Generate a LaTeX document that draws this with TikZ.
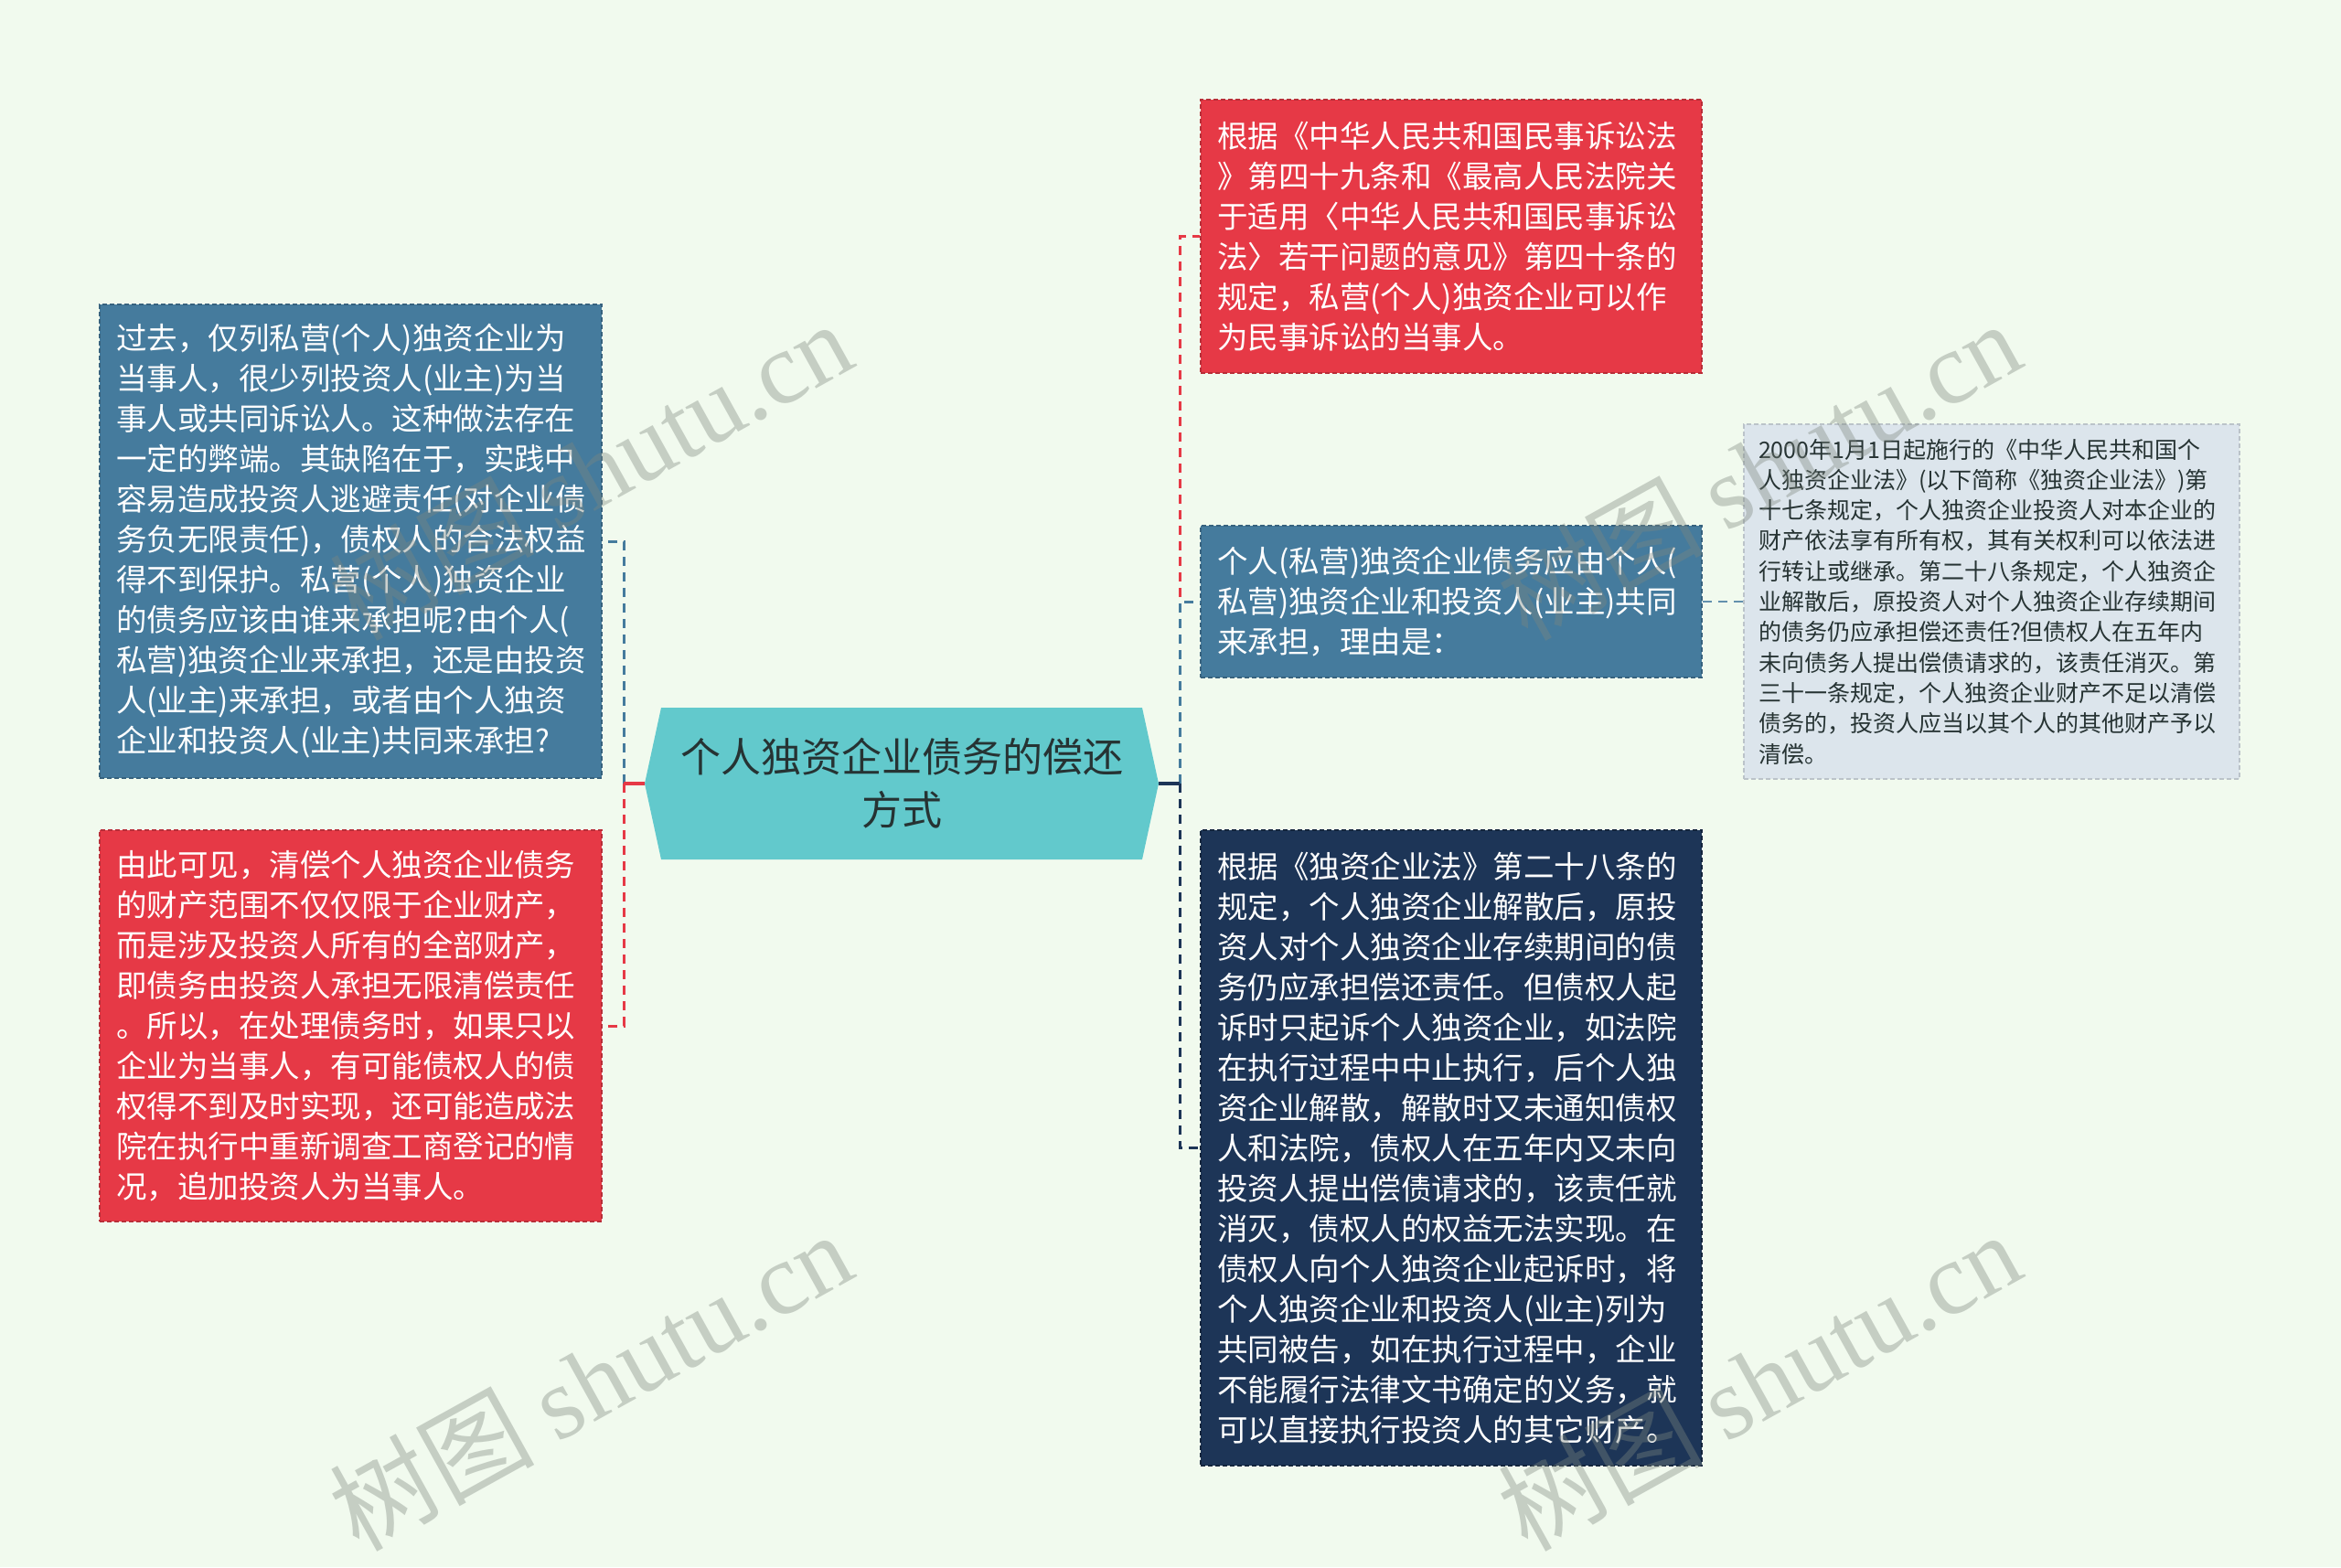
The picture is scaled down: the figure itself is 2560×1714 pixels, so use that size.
\documentclass[tikz,border=0pt]{standalone}
\usepackage{fontspec}
\setmainfont{Noto Sans CJK SC}
\newfontfamily\wmcjk{Noto Sans CJK SC}
\newfontfamily\wmlat{Liberation Serif}
\definecolor{bgc}{HTML}{F1FAEE}
\definecolor{redc}{HTML}{E63946}
\definecolor{bluec}{HTML}{457B9D}
\definecolor{navyc}{HTML}{1D3557}
\definecolor{tealc}{HTML}{62C9CC}
\definecolor{lightc}{HTML}{DCE5EC}
\definecolor{darktxt}{HTML}{263333}
\definecolor{wmc}{HTML}{7E877F}
\tikzset{
  boxbase/.style={rectangle, draw, dash pattern=on 5pt off 3pt, line width=1.5pt, inner xsep=18pt, inner ysep=0pt, align=left, text=white, font=\fontsize{33.5pt}{44pt}\selectfont},
  redbox/.style={boxbase, fill=redc, draw=redc!80!black},
  bluebox/.style={boxbase, fill=bluec, draw=bluec!80!black},
  navybox/.style={boxbase, fill=navyc, draw=navyc!70!black},
  lightbox/.style={rectangle, draw=lightc!85!black, dash pattern=on 5pt off 3pt, line width=1.5pt, fill=lightc, inner xsep=16pt, inner ysep=0pt, align=left, text=darktxt, font=\fontsize{25pt}{33.3pt}\selectfont},
  conn/.style={line width=3pt, dash pattern=on 10pt off 7pt},
  stub/.style={line width=3.5pt},
  wmark/.style={text=wmc, text opacity=0.38, font=\fontsize{112pt}{112pt}\selectfont, inner sep=0pt}
}
\begin{document}
\begin{tikzpicture}[x=1pt,y=-1pt]
\fill[bgc] (0,0) rectangle (2560,1714);
\useasboundingbox (0,0) rectangle (2560,1714);

% center hexagon
\fill[tealc] (705,857) -- (723,774) -- (1249,774) -- (1267,857) -- (1249,940) -- (723,940) -- cycle;
\node[align=center, text=darktxt, font=\fontsize{44pt}{58pt}\selectfont, inner sep=0pt] (c) at (986,857) {个人独资企业债务的偿还\\方式};
\coordinate (cL) at (705,857);
\coordinate (cR) at (1267,857);
\coordinate (jl) at (682,857);
\coordinate (jr) at (1290,857);

% left boxes
\node[bluebox, minimum width=549pt, minimum height=518pt, text width=513pt] (lb) at (383.5,592) {过去，仅列私营(个人)独资企业为\\当事人，很少列投资人(业主)为当\\事人或共同诉讼人。这种做法存在\\一定的弊端。其缺陷在于，实践中\\容易造成投资人逃避责任(对企业债\\务负无限责任)，债权人的合法权益\\得不到保护。私营(个人)独资企业\\的债务应该由谁来承担呢?由个人(\\私营)独资企业来承担，还是由投资\\人(业主)来承担，或者由个人独资\\企业和投资人(业主)共同来承担?};
\node[redbox, minimum width=549pt, minimum height=428pt, text width=513pt] (lr) at (383.5,1122) {由此可见，清偿个人独资企业债务\\的财产范围不仅仅限于企业财产，\\而是涉及投资人所有的全部财产，\\即债务由投资人承担无限清偿责任\\。所以，在处理债务时，如果只以\\企业为当事人，有可能债权人的债\\权得不到及时实现，还可能造成法\\院在执行中重新调查工商登记的情\\况，追加投资人为当事人。};

% right boxes
\node[redbox, minimum width=548pt, minimum height=299pt, text width=512pt] (rt) at (1587,258.5) {根据《中华人民共和国民事诉讼法\\》第四十九条和《最高人民法院关\\于适用〈中华人民共和国民事诉讼\\法〉若干问题的意见》第四十条的\\规定，私营(个人)独资企业可以作\\为民事诉讼的当事人。};
\node[bluebox, minimum width=548pt, minimum height=166pt, text width=512pt] (rm) at (1587,658) {个人(私营)独资企业债务应由个人(\\私营)独资企业和投资人(业主)共同\\来承担，理由是：};
\node[navybox, minimum width=548pt, minimum height=695pt, text width=512pt] (rb) at (1587,1255.5) {根据《独资企业法》第二十八条的\\规定，个人独资企业解散后，原投\\资人对个人独资企业存续期间的债\\务仍应承担偿还责任。但债权人起\\诉时只起诉个人独资企业，如法院\\在执行过程中中止执行，后个人独\\资企业解散，解散时又未通知债权\\人和法院，债权人在五年内又未向\\投资人提出偿债请求的，该责任就\\消灭，债权人的权益无法实现。在\\债权人向个人独资企业起诉时，将\\个人独资企业和投资人(业主)列为\\共同被告，如在执行过程中，企业\\不能履行法律文书确定的义务，就\\可以直接执行投资人的其它财产。};
\node[lightbox, minimum width=542pt, minimum height=388pt, text width=510pt] (fr) at (2178,658) {2000年1月1日起施行的《中华人民共和国个\\人独资企业法》(以下简称《独资企业法》)第\\十七条规定，个人独资企业投资人对本企业的\\财产依法享有所有权，其有关权利可以依法进\\行转让或继承。第二十八条规定，个人独资企\\业解散后，原投资人对个人独资企业存续期间\\的债务仍应承担偿还责任?但债权人在五年内\\未向债务人提出偿债请求的，该责任消灭。第\\三十一条规定，个人独资企业财产不足以清偿\\债务的，投资人应当以其个人的其他财产予以\\清偿。};

% connectors left
\draw[conn, bluec] (jl) |- (lb.east);
\draw[conn, redc] (jl) |- (lr.east);
\draw[stub, redc] (cL) -- (jl);
% connectors right
\draw[conn, redc] (jr) |- (rt.west);
\draw[conn, bluec] (jr) |- (rm.west);
\draw[conn, navyc] (jr) |- (rb.west);
\draw[stub, navyc] (cR) -- (jr);
\draw[line width=2pt, dash pattern=on 10pt off 7pt, color=bluec!80!lightc] (rm.east) -- (fr.west);

% watermarks
\node[wmark, rotate=29] (w1) at (645,514) {\wmcjk 树图 \wmlat shutu.cn};
\node[wmark, rotate=29] (w2) at (1923,514) {\wmcjk 树图 \wmlat shutu.cn};
\node[wmark, rotate=29] (w3) at (645,1510) {\wmcjk 树图 \wmlat shutu.cn};
\node[wmark, rotate=29] (w4) at (1923,1510) {\wmcjk 树图 \wmlat shutu.cn};
\end{tikzpicture}
\end{document}
